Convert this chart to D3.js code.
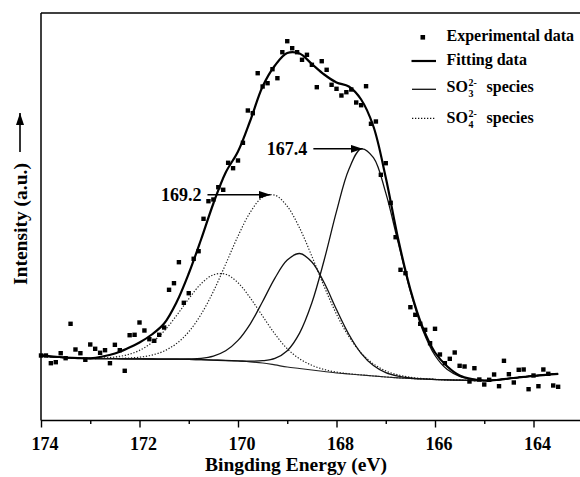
<!DOCTYPE html>
<html>
<head>
<meta charset="utf-8">
<script src="https://cdn.jsdelivr.net/npm/d3@7"></script>
<style>
  body { margin: 0; background: #fff; }
  svg { display: block; }
  text { font-family: "Liberation Serif", "Times New Roman", serif; font-weight: bold; fill: #000; }
</style>
</head>
<body>
<svg id="chart" width="580" height="477"></svg>
<script>
// S 2p spectrum, binding energy in eV, intensity in a.u.
var majorTicks = [174, 172, 170, 168, 166, 164];
var minorTicks = [173, 171, 169, 167, 165];

// experimental points
var expEnergy = [174.0, 173.9, 173.8, 173.7, 173.6, 173.5, 173.4, 173.3, 173.2, 173.1,
  173.0, 172.9, 172.8, 172.7, 172.6, 172.5, 172.4, 172.3, 172.2, 172.1,
  172.0, 171.9, 171.8, 171.7, 171.6, 171.5, 171.4, 171.3, 171.2, 171.1,
  171.0, 170.9, 170.8, 170.7, 170.6, 170.5, 170.4, 170.3, 170.2, 170.1,
  170.0, 169.9, 169.8, 169.7, 169.6, 169.5, 169.4, 169.3, 169.2, 169.1,
  169.0, 168.9, 168.8, 168.7, 168.6, 168.5, 168.4, 168.3, 168.2, 168.1,
  168.0, 167.9, 167.8, 167.7, 167.6, 167.5, 167.4, 167.3, 167.2, 167.1,
  167.0, 166.9, 166.8, 166.7, 166.6, 166.5, 166.4, 166.3, 166.2, 166.1,
  166.0, 165.9, 165.8, 165.7, 165.6, 165.5, 165.4, 165.3, 165.2, 165.1,
  165.0, 164.9, 164.8, 164.7, 164.6, 164.5, 164.4, 164.3, 164.2, 164.1,
  164.0, 163.9, 163.8, 163.7, 163.6, 163.5];
var expIntensity = [65, 65, 57.3, 58.3, 67.3, 62.3, 96.7, 71, 67.3, 60.7,
  76, 71.7, 67.7, 70.3, 57.3, 75.7, 70.3, 49.7, 85.3, 85.7,
  98, 90, 81.3, 79.7, 85.7, 93, 130.7, 137.3, 158.3, 117.7,
  127.3, 161.7, 169.3, 201.7, 219.3, 221, 233.3, 230.7, 257.7, 252.3,
  260, 277.7, 310, 307.3, 347.3, 334, 337.3, 351.3, 342.3, 368.3,
  379.3, 372.3, 368.3, 360.7, 365.7, 355.7, 333.3, 359.3, 350.7, 335.7,
  331.7, 325, 328.3, 331, 318, 315.3, 334.3, 296.7, 299, 245.7,
  257.3, 217.7, 183.3, 150.7, 147.3, 113.3, 105.7, 96.7, 90.7, 77.3,
  91.7, 66, 57.3, 61.7, 68, 54.7, 54, 39, 52.3, 41,
  36, 40.7, 46, 34.3, 59.7, 46.3, 38, 50.7, 51, 31.3,
  45, 34.3, 51, 46.7, 35, 33.7];

// fitted curves, sampled every 0.25 eV
var gridEnergy = [174, 173.75, 173.5, 173.25, 173, 172.75, 172.5, 172.25, 172, 171.75,
  171.5, 171.25, 171, 170.75, 170.5, 170.25, 170, 169.75, 169.5, 169.25,
  169, 168.75, 168.5, 168.25, 168, 167.75, 167.5, 167.25, 167, 166.75,
  166.5, 166.25, 166, 165.75, 165.5, 165.25, 165, 164.75, 164.5, 164.25,
  164, 163.75, 163.5];
var background = [64.5, 63.5, 62.8, 62.3, 62.0, 61.9, 61.8, 61.7, 61.6, 61.5,
  61.4, 61.3, 61.1, 60.8, 60.4, 60.0, 59.5, 58.6, 57.5, 55.6,
  53.5, 52.0, 50.5, 49.0, 47.5, 46.5, 45.5, 44.5, 43.5, 42.7,
  42.0, 41.5, 41.0, 40.6, 40.3, 40.0, 39.8, 40.5, 42.0, 43.3,
  44.6, 45.7, 46.7];
var fitting = [65.5, 64.0, 63.0, 62.4, 62.2, 64.0, 67.0, 72.0, 78.0, 86.0,
  97.0, 118.0, 147.0, 181.0, 217.0, 248.0, 269.0, 300.0, 334.0, 355.0,
  367.5, 367.0, 356.5, 346.0, 338.0, 334.0, 321.0, 294.0, 243.0, 182.0,
  131.0, 93.0, 68.0, 54.0, 45.0, 41.5, 40.0, 40.5, 42.0, 43.3,
  44.6, 45.7, 46.7];
// SO3 2- at 167.4 eV
var so3Main = [64.5, 63.5, 62.8, 62.3, 62.0, 61.9, 61.8, 61.7, 61.6, 61.5,
  61.4, 61.3, 61.1, 60.8, 60.4, 60.0, 59.7, 59.3, 59.8, 62.1,
  69.8, 87.4, 117.7, 160.5, 209.1, 251.0, 271.6, 262.8, 227.6, 178.3,
  129.2, 90.5, 65.0, 50.9, 44.2, 41.3, 40.1, 40.5, 42.0, 43.3,
  44.6, 45.7, 46.7];
// SO3 2- second component near 168.7 eV
var so3Second = [64.5, 63.5, 62.8, 62.3, 62.0, 61.9, 61.8, 61.7, 61.6, 61.5,
  61.4, 61.4, 61.6, 62.2, 64.4, 69.7, 80.1, 96.7, 119.0, 142.4,
  160.4, 167.0, 158.5, 137.7, 111.0, 86.3, 67.2, 54.9, 47.8, 44.3,
  42.5, 41.6, 41.0, 40.6, 40.3, 40.0, 39.8, 40.5, 42.0, 43.3,
  44.6, 45.7, 46.7];
// SO4 2- at 169.2 eV
var so4Main = [64.5, 63.5, 62.8, 62.3, 62.0, 62.0, 62.1, 62.4, 63.3, 65.4,
  69.5, 76.9, 88.7, 106.1, 129.1, 156.4, 184.4, 208.3, 223.3, 225.3,
  214.2, 192.6, 164.2, 134.0, 106.3, 84.0, 67.7, 56.6, 49.6, 45.6,
  43.2, 42.0, 41.2, 40.6, 40.3, 40.0, 39.8, 40.5, 42.0, 43.3,
  44.6, 45.7, 46.7];
// SO4 2- second component near 170.4 eV
var so4Second = [64.5, 63.5, 62.8, 62.4, 62.2, 62.5, 63.5, 65.7, 70.1, 77.8,
  89.5, 104.8, 121.7, 136.7, 145.7, 146.3, 137.8, 122.5, 104.4, 86.5,
  71.8, 61.7, 55.2, 51.0, 48.3, 46.8, 45.6, 44.5, 43.5, 42.7,
  42.0, 41.5, 41.0, 40.6, 40.3, 40.0, 39.8, 40.5, 42.0, 43.3,
  44.6, 45.7, 46.7];

// peak labels with arrows (energies of arrow tail and tip, intensity level)
var peakLabels = ["169.2", "167.4"];
var arrowFrom = [170.62, 168.47];
var arrowTo = [169.34, 167.47];
var arrowLevel = [225.7, 271.7];

var svg = d3.select("#chart");
var plotLeft = 41, plotRight = 580, plotTop = 13, plotBottom = 420.5;

var x = d3.scaleLinear().domain([174, 163.056]).range([plotLeft, plotRight]);
var y = d3.scaleLinear().domain([0, 407.5]).range([plotBottom, plotTop]);

svg.append("defs").append("marker")
  .attr("id", "head")
  .attr("markerUnits", "userSpaceOnUse")
  .attr("markerWidth", 14).attr("markerHeight", 10)
  .attr("refX", 12).attr("refY", 4)
  .attr("orient", "auto")
  .append("path")
  .attr("d", "M0,0 L12,4 L0,8 Z")
  .attr("fill", "#000");

function series(vals) {
  return gridEnergy.map(function (e, i) { return { e: e, v: vals[i] }; });
}

var line = d3.line()
  .x(function (d) { return x(d.e); })
  .y(function (d) { return y(d.v); })
  .curve(d3.curveCatmullRom.alpha(0.5));

var plot = svg.append("g");

plot.append("path").datum(series(background))
  .attr("d", line).attr("fill", "none").attr("stroke", "#222").attr("stroke-width", 1.2);

[so4Main, so4Second].forEach(function (s) {
  plot.append("path").datum(series(s))
    .attr("d", line).attr("fill", "none").attr("stroke", "#222")
    .attr("stroke-width", 1.2).attr("stroke-dasharray", "1.3,1.7");
});
[so3Main, so3Second].forEach(function (s) {
  plot.append("path").datum(series(s))
    .attr("d", line).attr("fill", "none").attr("stroke", "#111").attr("stroke-width", 1.3);
});

plot.append("path").datum(series(fitting))
  .attr("d", line).attr("fill", "none").attr("stroke", "#000").attr("stroke-width", 2.2);

// experimental squares
plot.selectAll("rect.pt")
  .data(expEnergy.map(function (e, i) { return { e: e, v: expIntensity[i] }; }))
  .enter().append("rect")
  .attr("class", "pt")
  .attr("x", function (d) { return x(d.e) - 2.2; })
  .attr("y", function (d) { return y(d.v) - 2.2; })
  .attr("width", 4.4).attr("height", 4.4)
  .attr("fill", "#000");

// frame
svg.append("line").attr("x1", plotLeft).attr("x2", plotRight + 2).attr("y1", plotTop).attr("y2", plotTop)
  .attr("stroke", "#000").attr("stroke-width", 1.5);
svg.append("line").attr("x1", plotLeft).attr("x2", plotLeft).attr("y1", plotTop).attr("y2", plotBottom)
  .attr("stroke", "#000").attr("stroke-width", 1.5);

// x axis, major and minor ticks pointing down
var xMinor = svg.append("g").attr("transform", "translate(0," + plotBottom + ")")
  .call(d3.axisBottom(x).tickValues(minorTicks).tickSize(3.5).tickSizeOuter(0).tickFormat(""));
xMinor.select(".domain").remove();

var xAxis = svg.append("g").attr("transform", "translate(0," + plotBottom + ")")
  .call(d3.axisBottom(x).tickValues(majorTicks).tickSize(7).tickSizeOuter(0)
    .tickPadding(9.5).tickFormat(d3.format("d")));
xAxis.select(".domain").attr("d", "M" + plotLeft + ",0H" + (plotRight + 2)).attr("stroke-width", 1.5);
svg.selectAll(".tick line").attr("stroke-width", 1.4);
xAxis.selectAll("text")
  .attr("font-family", "Liberation Serif, Times New Roman, serif")
  .attr("font-weight", "bold")
  .attr("font-size", 18)
  .attr("dx", 3.5);

svg.append("text")
  .attr("x", 296).attr("y", 471)
  .attr("text-anchor", "middle")
  .attr("font-size", 19.5)
  .text("Bingding Energy (eV)");

// y axis title with arrow
svg.append("text")
  .attr("transform", "translate(26.5,285) rotate(-90)")
  .attr("font-size", 19.5)
  .text("Intensity (a.u.)");
svg.append("line")
  .attr("x1", 20).attr("x2", 20).attr("y1", 152).attr("y2", 113)
  .attr("stroke", "#000").attr("stroke-width", 1.6)
  .attr("marker-end", "url(#head)");

// peak annotations
peakLabels.forEach(function (lab, i) {
  var yy = y(arrowLevel[i]);
  svg.append("line")
    .attr("x1", x(arrowFrom[i])).attr("x2", x(arrowTo[i]))
    .attr("y1", yy).attr("y2", yy)
    .attr("stroke", "#000").attr("stroke-width", 1.6)
    .attr("marker-end", "url(#head)");
  svg.append("text")
    .attr("x", x(arrowFrom[i]) - 6).attr("y", yy + 6.5)
    .attr("text-anchor", "end")
    .attr("font-size", 18)
    .text(lab);
});

// legend
var lg = svg.append("g");
lg.append("rect").attr("x", 420.5).attr("y", 35).attr("width", 4.6).attr("height", 4.6).attr("fill", "#000");
lg.append("text").attr("x", 446.5).attr("y", 41).attr("font-size", 16).text("Experimental data");

lg.append("line").attr("x1", 411.5).attr("x2", 436).attr("y1", 61).attr("y2", 61)
  .attr("stroke", "#000").attr("stroke-width", 2.2);
lg.append("text").attr("x", 446.5).attr("y", 64.5).attr("font-size", 16).text("Fitting data");

var ions = [
  { sub: "3", base: 91.5, lineY: 89.3, dash: null },
  { sub: "4", base: 122.5, lineY: 118.3, dash: "1.3,1.7" }
];
ions.forEach(function (d) {
  var ln = lg.append("line").attr("x1", 412).attr("x2", 436).attr("y1", d.lineY).attr("y2", d.lineY)
    .attr("stroke", "#111").attr("stroke-width", 1.3);
  if (d.dash) ln.attr("stroke-dasharray", d.dash).attr("stroke-width", 1.2);
  lg.append("text").attr("x", 446.5).attr("y", d.base).attr("font-size", 16).text("SO");
  lg.append("text").attr("x", 468.5).attr("y", d.base + 5).attr("font-size", 10).text(d.sub);
  lg.append("text").attr("x", 468.5).attr("y", d.base - 5.5).attr("font-size", 10).text("2-");
  lg.append("text").attr("x", 486.5).attr("y", d.base).attr("font-size", 16).text("species");
});
</script>
</body>
</html>
